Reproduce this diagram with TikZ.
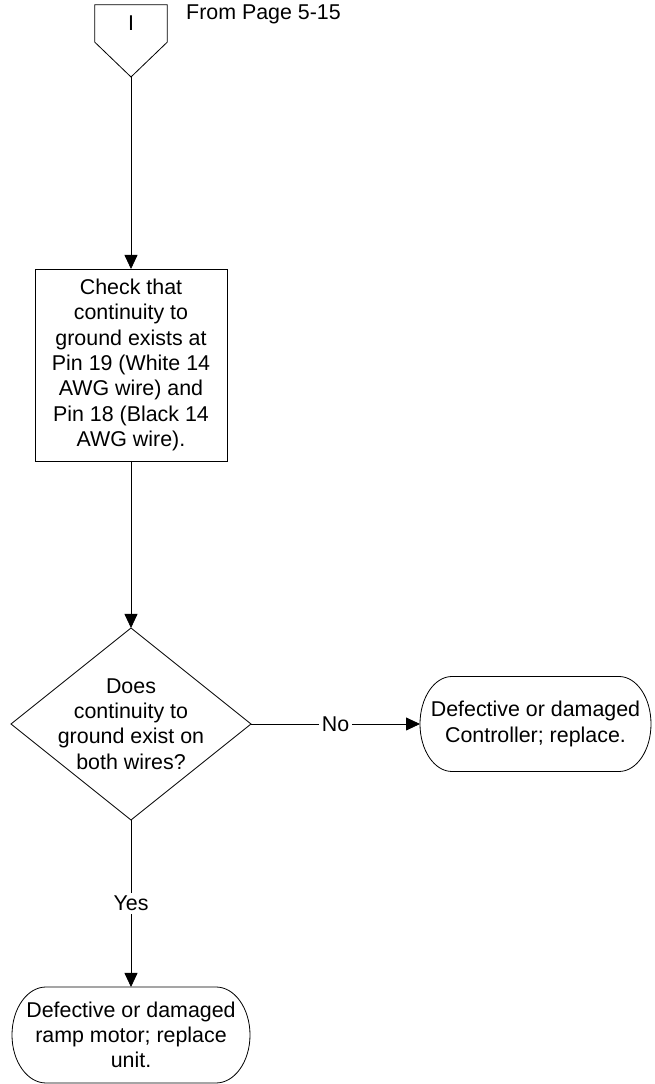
\documentclass[tikz,border=0pt]{standalone}
\usepackage{fontspec}
\setmainfont{Liberation Sans}
\usetikzlibrary{arrows.meta,shapes.geometric}
\tikzset{
  flow/.style={draw=black, line width=0.8pt},
  arrowline/.style={flow, -{Triangle[length=14pt,width=13pt]}},
  txt/.style={font=\fontsize{21.4}{25.3}\selectfont, align=center, inner sep=0pt},
  proc/.style={txt, draw, line width=0.8pt, rectangle, outer sep=0pt,
    minimum width=192pt, minimum height=192pt},
  decshape/.style={draw, line width=0.8pt, diamond, inner sep=0pt, outer sep=0pt,
    minimum width=240pt, minimum height=192pt},
  termbox/.style={txt, rectangle, outer sep=0pt},
  edgelabel/.style={txt, fill=white, inner sep=3pt}
}
% outline of a terminator: straight top and bottom, elliptic ends
\newcommand\terminaloutline[3]{%
  \draw[flow] ([xshift=#2]#1.north west) -- ([xshift=-#2]#1.north east)
    arc[start angle=90, end angle=-90, x radius=#2, y radius=#3]
    -- ([xshift=#2]#1.south west)
    arc[start angle=270, end angle=90, x radius=#2, y radius=#3] -- cycle;}
\begin{document}
\begin{tikzpicture}[x=1pt,y=1pt]
  \useasboundingbox (0,0) rectangle (655,1084);

  % off-page connector
  \node[txt, minimum width=72pt, minimum height=37pt] (conn) at (131,1060.5) {I};
  \coordinate (connTip) at (131,1007);
  \draw[flow] (conn.north west) -- (conn.north east) -- (conn.south east)
    -- (connTip) -- (conn.south west) -- cycle;
  \node[txt, anchor=base west] (fromPage) at (186,1064) {From Page 5-15};

  % process step
  \node[proc] (proc) at (131,719) {Check that\\continuity to\\ground exists at\\Pin 19 (White 14\\AWG wire) and\\Pin 18 (Black 14\\AWG wire).};

  % decision
  \node[decshape] (dec) at (131,360) {};
  \node[txt] (decText) at (131,360) {Does\\continuity to\\ground exist on\\both wires?};

  % terminators
  \node[termbox, minimum width=231pt, minimum height=95pt] (endNo) at (535.5,360)
    {Defective or damaged\\Controller; replace.};
  \terminaloutline{endNo}{32pt}{47.5pt}
  \node[termbox, minimum width=238pt, minimum height=96pt] (endYes) at (131,49)
    {Defective or damaged\\ramp motor; replace\\unit.};
  \terminaloutline{endYes}{34pt}{48pt}

  % connectors
  \draw[arrowline] (connTip) -- (proc.north);
  \draw[arrowline] (proc.south) -- (dec.north);
  \draw[arrowline] (dec.east) -- node[edgelabel] (noLabel) {No} (endNo.west);
  \draw[arrowline] (dec.south) -- node[edgelabel] (yesLabel) {Yes} (endYes.north);
\end{tikzpicture}
\end{document}
